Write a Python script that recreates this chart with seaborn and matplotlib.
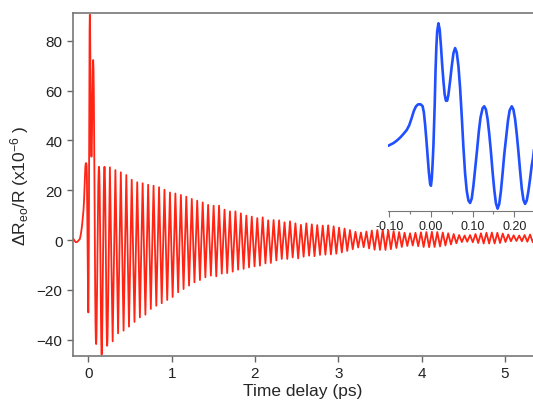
import numpy as np
import pandas as pd
import matplotlib
matplotlib.use("Agg")
import matplotlib.pyplot as plt
import seaborn as sns

# --- data (time in ps, signal in 1e-6) ---
# dense readings of the onset (also shown in the inset)
early_t = [-0.180, -0.165, -0.150, -0.135, -0.120, -0.102, -0.090, -0.082, -0.074,
           -0.066, -0.058, -0.052, -0.046, -0.041, -0.036, -0.031, -0.025, -0.020,
           -0.017, -0.014, -0.011, -0.008, -0.005, -0.002, 0.000, 0.002, 0.004,
           0.006, 0.009, 0.011, 0.013, 0.015, 0.018, 0.021, 0.024, 0.027, 0.030,
           0.033, 0.036, 0.039, 0.042, 0.046, 0.050, 0.054, 0.058, 0.062, 0.066,
           0.070, 0.074, 0.078, 0.082, 0.086, 0.090, 0.094, 0.098, 0.102, 0.106,
           0.111, 0.115, 0.119, 0.124, 0.128, 0.132, 0.136, 0.140, 0.144, 0.148,
           0.152, 0.156, 0.160, 0.164, 0.168, 0.172, 0.176, 0.181, 0.185, 0.189,
           0.194, 0.198, 0.202, 0.206, 0.210, 0.214, 0.218, 0.222, 0.226, 0.230,
           0.234, 0.238, 0.242, 0.245]
early_v = [0.5, -0.3, -0.9, -0.8, -0.3, 0.4, 2.3, 4.1, 6.3,
           9.0, 12.0, 15.5, 21.0, 26.0, 29.3, 30.8, 30.9, 29.5,
           25.0, 16.0, 5.0, -7.0, -19.0, -27.5, -29.1, -24.0, -13.0,
           0.4, 30.0, 55.0, 73.0, 84.5, 90.5, 86.0, 74.0, 60.0, 48.0,
           38.0, 33.5, 33.5, 38.0, 48.0, 59.0, 68.5, 72.3, 69.0, 59.0,
           43.0, 22.0, -1.0, -20.0, -33.0, -40.0, -41.8, -38.5, -29.0, -17.0,
           -2.0, 11.0, 21.0, 28.0, 29.4, 27.0, 20.0, 9.0, -4.0, -19.0,
           -32.0, -42.0, -46.0, -42.5, -33.0, -20.0, -6.0, 8.0, 19.0, 26.5,
           29.4, 27.0, 20.0, 9.0, -4.0, -18.0, -31.0, -39.5, -42.5, -40.0,
           -33.0, -24.0, -14.0, -8.9]

# oscillation maxima after the onset
peak_t = [0.259, 0.325, 0.390, 0.456, 0.521, 0.587, 0.652, 0.718, 0.783, 0.849,
          0.914, 0.980, 1.045, 1.111, 1.176, 1.242, 1.307, 1.373, 1.438, 1.504,
          1.569, 1.635, 1.700, 1.766, 1.831, 1.897, 1.962, 2.028, 2.093, 2.159,
          2.224, 2.290, 2.355, 2.421, 2.486, 2.552, 2.617, 2.683, 2.748, 2.814,
          2.879, 2.945, 3.010, 3.076, 3.141, 3.207, 3.272, 3.338, 3.403, 3.469,
          3.534, 3.600, 3.665, 3.731, 3.796, 3.862, 3.927, 3.993, 4.058, 4.124,
          4.189, 4.255, 4.320, 4.386, 4.451, 4.517, 4.582, 4.648, 4.713, 4.779,
          4.844, 4.910, 4.975, 5.041, 5.106, 5.172, 5.237, 5.303, 5.368]
peak_v = [29.2, 28.1, 27.2, 26.1, 24.2, 23.2, 22.8, 22.2, 21.8, 21.2,
          20.2, 19.1, 18.7, 18.1, 17.4, 16.5, 15.8, 15.1, 14.1, 13.8,
          13.8, 12.2, 11.5, 11.5, 10.7, 9.8, 9.4, 8.8, 9.1, 7.9,
          8.0, 7.9, 7.1, 7.5, 6.7, 6.1, 6.7, 6.3, 6.0, 5.8,
          5.9, 5.5, 5.0, 4.6, 4.0, 3.3, 3.0, 3.4, 3.8, 4.0,
          4.1, 3.9, 3.6, 3.2, 2.9, 2.7, 2.9, 3.1, 3.2, 3.3,
          3.2, 3.0, 2.7, 2.4, 2.0, 1.8, 2.0, 2.4, 2.7, 2.9,
          3.0, 2.9, 2.6, 2.2, 1.9, 1.8, 2.0, 2.2, 2.3]

# oscillation minima after the onset
trough_t = [0.292, 0.357, 0.423, 0.488, 0.554, 0.619, 0.685, 0.750, 0.816, 0.881,
            0.947, 1.012, 1.078, 1.143, 1.209, 1.274, 1.340, 1.405, 1.471, 1.536,
            1.602, 1.667, 1.733, 1.798, 1.864, 1.929, 1.995, 2.060, 2.126, 2.191,
            2.257, 2.322, 2.388, 2.453, 2.519, 2.584, 2.650, 2.715, 2.781, 2.846,
            2.912, 2.977, 3.043, 3.108, 3.174, 3.239, 3.305, 3.370, 3.436, 3.501,
            3.567, 3.632, 3.698, 3.763, 3.829, 3.894, 3.960, 4.025, 4.091, 4.156,
            4.222, 4.287, 4.353, 4.418, 4.484, 4.549, 4.615, 4.680, 4.746, 4.811,
            4.877, 4.942, 5.008, 5.073, 5.139, 5.204, 5.270, 5.335]
trough_v = [-40.7, -37.5, -36.4, -34.8, -32.9, -31.1, -30.0, -27.7, -26.4, -25.4,
            -24.1, -22.9, -21.0, -19.7, -18.3, -17.0, -16.1, -15.0, -14.3, -14.6,
            -13.5, -13.3, -12.7, -11.9, -11.6, -11.0, -10.6, -10.3, -9.4, -9.2,
            -8.2, -7.6, -7.6, -7.0, -7.4, -6.7, -6.3, -6.5, -6.0, -5.9,
            -5.8, -5.5, -5.0, -4.4, -3.7, -3.0, -2.9, -3.4, -3.9, -4.0,
            -4.0, -3.7, -3.2, -2.8, -2.4, -2.2, -2.5, -2.8, -2.9, -2.8,
            -2.6, -2.2, -1.8, -1.3, -0.8, -0.7, -0.9, -1.2, -1.4, -1.4,
            -1.4, -1.2, -0.8, -0.5, -0.4, -0.5, -0.7, -0.9]

x_ticks = [0, 1, 2, 3, 4, 5]
y_ticks = [-40, -20, 0, 20, 40, 60, 80]
inset_ticks = [-0.10, 0.00, 0.10, 0.20]
inset_labels = ["-0.10", "0.00", "0.10", "0.20"]

df = pd.concat([
    pd.DataFrame({"t": early_t, "v": early_v}),
    pd.DataFrame({"t": peak_t, "v": peak_v}),
    pd.DataFrame({"t": trough_t, "v": trough_v}),
]).sort_values("t").reset_index(drop=True)

sns.set_style("ticks")
plt.rcParams["font.family"] = ["Liberation Sans", "DejaVu Sans"]
plt.rcParams["mathtext.fontset"] = "custom"
plt.rcParams["mathtext.rm"] = "Liberation Sans"
plt.rcParams["mathtext.it"] = "Liberation Sans:italic"

W, H = 533, 406
fig = plt.figure(figsize=(W / 100, H / 100), dpi=100)
ax = fig.add_axes([73 / W, 49 / H, 460 / W, 343 / H])

sns.lineplot(data=df, x="t", y="v", ax=ax, color="#ff2414", lw=1.3,
             estimator=None, sort=False)
ax.set_xlim(-0.184, 5.338)
ax.set_ylim(-46.6, 91.2)
ax.set_xticks(x_ticks)
ax.set_yticks(y_ticks)
ax.set_xlabel("Time delay (ps)", fontsize=12.5, labelpad=2)
ax.set_ylabel("ΔR$_{\\rm eo}$/R (x10$^{-6}$ )", fontsize=12.5, labelpad=4)
ax.tick_params(labelsize=11, length=4, width=1, color="#666666",
               labelcolor="#222222", direction="out")
for side in ["left", "bottom", "top"]:
    ax.spines[side].set_color("#777777")
    ax.spines[side].set_linewidth(1.2)
ax.spines["right"].set_visible(False)

# inset: zoom on the onset
axi = fig.add_axes([387.6 / W, 194.3 / H, (W - 387.6) / W, 191.7 / H])
axi.patch.set_alpha(0)
sns.lineplot(data=df, x="t", y="v", ax=axi, color="#1f4fff", lw=1.9,
             estimator=None, sort=False)
axi.set_xlim(-0.104, 0.245)
axi.set_ylim(-47.5, 93.7)
axi.set_xticks(inset_ticks)
axi.set_xticklabels(inset_labels)
axi.set_xticks([-0.05, 0.05, 0.15], minor=True)
axi.set_yticks([])
axi.set_xlabel("")
axi.set_ylabel("")
axi.tick_params(axis="x", which="major", labelsize=9, length=4, width=0.8,
                color="#777777", labelcolor="#222222", pad=3)
axi.tick_params(axis="x", which="minor", length=2, width=0.8, color="#777777")
for side in ["left", "right", "top"]:
    axi.spines[side].set_visible(False)
axi.spines["bottom"].set_color("#777777")
axi.spines["bottom"].set_linewidth(0.8)

fig.savefig("out.png", dpi=100)
